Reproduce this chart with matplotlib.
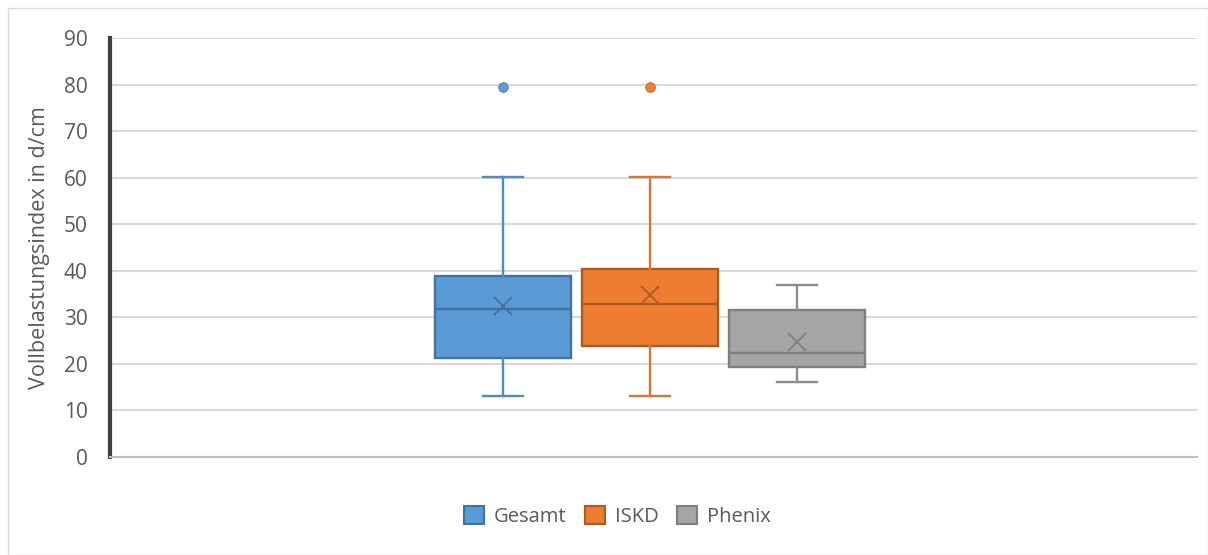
import matplotlib.pyplot as plt
from matplotlib.patches import Patch, Rectangle

# values
labels = ['Gesamt', 'ISKD', 'Phenix']
whislo = [13.1, 13.1, 16.2]
q1 = [21.2, 23.8, 19.3]
med = [31.7, 32.8, 22.4]
q3 = [38.9, 40.4, 31.6]
whishi = [60.2, 60.2, 36.9]
means = [32.5, 34.9, 24.8]
fliers = [[79.5], [79.5], []]

fills = ['#5B9BD5', '#ED7D31', '#A5A5A5']
edges = ['#41719C', '#AE5A21', '#7F7F7F']
whisk = ['#4F8BC9', '#D9743A', '#8C8C8C']

plt.rcParams['font.family'] = ['Open Sans', 'DejaVu Sans']

fig = plt.figure(figsize=(12.08, 5.55), dpi=100)
fig.patches.append(Rectangle((0.007, 0.0), 0.993, 0.985, transform=fig.transFigure,
                             fill=False, edgecolor='#d9d9d9', lw=1))
ax = fig.add_axes([0.0911, 0.1766, 0.8998, 0.7549])

for i in range(3):
    st = [dict(whislo=whislo[i], q1=q1[i], med=med[i], q3=q3[i], whishi=whishi[i],
               mean=means[i], fliers=fliers[i], label=labels[i])]
    ax.bxp(st, positions=[i + 1], widths=0.92, showmeans=True, patch_artist=True,
           boxprops=dict(facecolor=fills[i], edgecolor=edges[i], lw=1.7),
           medianprops=dict(color=edges[i], lw=1.7),
           whiskerprops=dict(color=whisk[i], lw=1.7),
           capprops=dict(color=whisk[i], lw=1.7),
           capwidths=0.27,
           meanprops=dict(marker='x', markersize=13, markeredgecolor=edges[i], markeredgewidth=1.3),
           flierprops=dict(marker='o', markersize=7, markerfacecolor=fills[i], markeredgecolor=edges[i], markeredgewidth=0.5))

ax.set_xlim(-1.673, 5.721)
ax.set_ylim(0, 90)
ax.set_yticks(range(0, 91, 10))
ax.set_xticks([])
ax.yaxis.grid(True, color='#d9d9d9', lw=1.5)
ax.set_axisbelow(True)
for s in ['top', 'right']:
    ax.spines[s].set_visible(False)
ax.spines['left'].set_color('#404040')
ax.spines['left'].set_linewidth(3)
ax.spines['bottom'].set_color('#bfbfbf')
ax.spines['bottom'].set_linewidth(1.5)
ax.tick_params(axis='y', length=0, labelsize=15, labelcolor='#595959', pad=16)
ax.set_ylabel('Vollbelastungsindex in d/cm', fontsize=15.5, color='#595959', labelpad=10)

handles = [Patch(facecolor=fills[i], edgecolor=edges[i], lw=1.5, label=labels[i]) for i in range(3)]
fig.legend(handles=handles, loc='center', bbox_to_anchor=(0.511, 0.07), ncol=3, frameon=False,
           fontsize=14.5, labelcolor='#595959', handlelength=1.0, handleheight=1.0,
           handletextpad=0.5, columnspacing=0.9)

fig.savefig('out.png', dpi=100)
